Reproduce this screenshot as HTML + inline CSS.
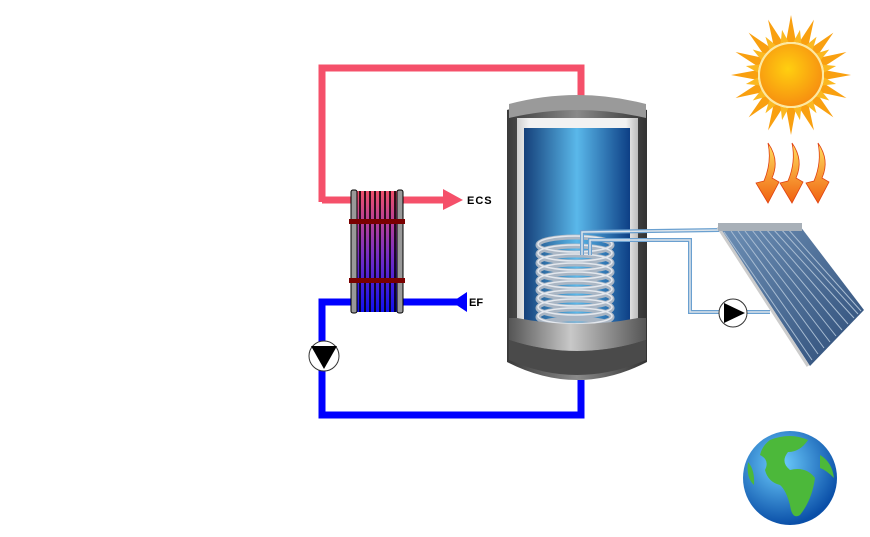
<!DOCTYPE html>
<html><head><meta charset="utf-8"><style>html,body{margin:0;padding:0;background:#fff}svg{display:block}</style></head>
<body>
<svg width="870" height="537" viewBox="0 0 870 537" xmlns="http://www.w3.org/2000/svg">
<defs>
<linearGradient id="hx" x1="0" y1="0" x2="0" y2="1"><stop offset="0" stop-color="#f0506a"/><stop offset="0.5" stop-color="#8030c0"/><stop offset="1" stop-color="#1010f0"/></linearGradient>
<linearGradient id="cyl" x1="0" y1="0" x2="1" y2="0"><stop offset="0" stop-color="#15407a"/><stop offset="0.5" stop-color="#5ab8ea"/><stop offset="1" stop-color="#0d3f85"/></linearGradient>
<linearGradient id="shell" x1="0" y1="0" x2="1" y2="0"><stop offset="0" stop-color="#cfcfcf"/><stop offset="0.1" stop-color="#f2f2f2"/><stop offset="0.9" stop-color="#f2f2f2"/><stop offset="1" stop-color="#bdbdbd"/></linearGradient>
<linearGradient id="cap" x1="0" y1="0" x2="1" y2="0"><stop offset="0" stop-color="#3a3a3a"/><stop offset="0.5" stop-color="#8a8a8a"/><stop offset="1" stop-color="#333"/></linearGradient>
<linearGradient id="base" x1="0" y1="0" x2="1" y2="0"><stop offset="0" stop-color="#555"/><stop offset="0.45" stop-color="#c8c8c8"/><stop offset="1" stop-color="#555"/></linearGradient>
<linearGradient id="pan" x1="0" y1="0" x2="1" y2="1"><stop offset="0" stop-color="#6d8fb5"/><stop offset="1" stop-color="#2e4d78"/></linearGradient>
<radialGradient id="sun" cx="0.45" cy="0.4" r="0.6"><stop offset="0" stop-color="#ffcf10"/><stop offset="1" stop-color="#f79010"/></radialGradient>
<radialGradient id="globe" cx="0.4" cy="0.35" r="0.65"><stop offset="0" stop-color="#6fd0ff"/><stop offset="1" stop-color="#0a4fa8"/></radialGradient>
<linearGradient id="heat" x1="0" y1="0" x2="0" y2="1"><stop offset="0" stop-color="#ffe060"/><stop offset="1" stop-color="#f06010"/></linearGradient>
<path id="ray" d="M-5,-33 L0,-60 L5,-33 Z" fill="#f9a010"/>
<path id="ray2" d="M-4,-33 L0,-46 L4,-33 Z" fill="#fbb820"/>
</defs>

<polyline points="322,202 322,68 581,68 581,96" fill="none" stroke="#f5506a" stroke-width="7"/>
<line x1="322" y1="200" x2="352" y2="200" stroke="#f5506a" stroke-width="7"/>
<line x1="402" y1="200" x2="446" y2="200" stroke="#f5506a" stroke-width="7"/>
<polygon points="443,189 463,200 443,210" fill="#f5506a"/>
<text x="467" y="204" font-family="Liberation Sans, sans-serif" font-weight="bold" font-size="11" letter-spacing="1">ECS</text>
<polyline points="352,302 322,302 322,415 581,415 581,380" fill="none" stroke="#0000ff" stroke-width="7"/>
<line x1="402" y1="302" x2="458" y2="302" stroke="#0000ff" stroke-width="7"/>
<polygon points="452,302 467,292 467,312" fill="#0000ff"/>
<text x="469" y="306" font-family="Liberation Sans, sans-serif" font-weight="bold" font-size="11">EF</text>
<circle cx="324" cy="356" r="15" fill="#fff" stroke="#333" stroke-width="1"/>
<polygon points="311,346 337,346 324,369" fill="#000"/>

<rect x="353" y="191" width="48" height="121" fill="url(#hx)"/>
<g stroke="#000" stroke-width="1.6">
<line x1="360" y1="191" x2="360" y2="312"/><line x1="365" y1="191" x2="365" y2="312"/><line x1="370" y1="191" x2="370" y2="312"/><line x1="375" y1="191" x2="375" y2="312"/><line x1="380" y1="191" x2="380" y2="312"/><line x1="385" y1="191" x2="385" y2="312"/><line x1="390" y1="191" x2="390" y2="312"/><line x1="395" y1="191" x2="395" y2="312"/>
</g>
<rect x="351" y="190" width="6" height="123" rx="2" fill="#999" stroke="#000"/>
<rect x="397" y="190" width="6" height="123" rx="2" fill="#999" stroke="#000"/>
<rect x="349" y="219" width="56" height="5" fill="#7a0000"/>
<rect x="349" y="278" width="56" height="5" fill="#7a0000"/>

<!-- tank -->
<path d="M507,110 Q577,88 647,110 L647,362 Q577,398 507,362 Z" fill="url(#cap)"/>
<path d="M509,104 Q577,86 646,104 L646,118 Q577,102 509,118 Z" fill="#9a9a9a"/>
<rect x="517" y="118" width="121" height="215" fill="url(#shell)"/>
<rect x="524" y="128" width="106" height="200" fill="url(#cyl)"/>
<g fill="none" stroke="#aab6c4" stroke-width="5">
<ellipse cx="575" cy="245" rx="37" ry="8"/><ellipse cx="575" cy="254" rx="37" ry="8"/><ellipse cx="575" cy="263" rx="37" ry="8"/><ellipse cx="575" cy="272" rx="37" ry="8"/><ellipse cx="575" cy="281" rx="37" ry="8"/><ellipse cx="575" cy="290" rx="37" ry="8"/><ellipse cx="575" cy="299" rx="37" ry="8"/><ellipse cx="575" cy="308" rx="37" ry="8"/><ellipse cx="575" cy="317" rx="37" ry="8"/><ellipse cx="575" cy="326" rx="37" ry="7"/>
</g>
<g fill="none" stroke="#e4e8ee" stroke-width="1.5">
<ellipse cx="575" cy="244" rx="37" ry="8"/><ellipse cx="575" cy="253" rx="37" ry="8"/><ellipse cx="575" cy="262" rx="37" ry="8"/><ellipse cx="575" cy="271" rx="37" ry="8"/><ellipse cx="575" cy="280" rx="37" ry="8"/><ellipse cx="575" cy="289" rx="37" ry="8"/><ellipse cx="575" cy="298" rx="37" ry="8"/><ellipse cx="575" cy="307" rx="37" ry="8"/><ellipse cx="575" cy="316" rx="37" ry="8"/>
</g>
<path d="M509,318 L517,318 Q577,330 638,318 L646,318 L646,340 Q577,362 509,340 Z" fill="url(#base)"/>
<path d="M509,340 Q577,362 646,340 L646,360 Q577,390 509,360 Z" fill="#4a4a4a"/>
<g fill="none" stroke="#6aa0d0" stroke-width="4">
<polyline points="582,255 582,232 720,230"/>
<polyline points="590,255 590,240 690,240 690,312 770,312"/>
</g>
<g fill="none" stroke="#dde4ea" stroke-width="1.5">
<polyline points="582,255 582,232 720,230"/>
<polyline points="590,255 590,240 690,240 690,312 770,312"/>
</g>
<circle cx="733" cy="313" r="14" fill="#fff" stroke="#333"/>
<polygon points="724,303 745,313 724,323" fill="#000"/>

<polygon points="720,228 800,226 864,310 810,366" fill="url(#pan)"/>
<g stroke="#a8bcd2" stroke-width="1">
<line x1="724" y1="232" x2="812" y2="360"/><line x1="731" y1="231" x2="818" y2="354"/><line x1="738" y1="231" x2="824" y2="348"/><line x1="745" y1="231" x2="830" y2="342"/><line x1="752" y1="230" x2="836" y2="336"/><line x1="759" y1="230" x2="842" y2="330"/><line x1="766" y1="229" x2="848" y2="324"/><line x1="773" y1="229" x2="854" y2="318"/><line x1="780" y1="228" x2="858" y2="314"/><line x1="787" y1="228" x2="861" y2="311"/>
</g>
<line x1="718" y1="227" x2="808" y2="366" stroke="#ccc" stroke-width="3"/>
<rect x="718" y="223" width="84" height="8" fill="#a8b0b8"/>

<g transform="translate(791,75)">
<use href="#ray"/><use href="#ray" transform="rotate(22.5)"/><use href="#ray" transform="rotate(45)"/><use href="#ray" transform="rotate(67.5)"/><use href="#ray" transform="rotate(90)"/><use href="#ray" transform="rotate(112.5)"/><use href="#ray" transform="rotate(135)"/><use href="#ray" transform="rotate(157.5)"/><use href="#ray" transform="rotate(180)"/><use href="#ray" transform="rotate(202.5)"/><use href="#ray" transform="rotate(225)"/><use href="#ray" transform="rotate(247.5)"/><use href="#ray" transform="rotate(270)"/><use href="#ray" transform="rotate(292.5)"/><use href="#ray" transform="rotate(315)"/><use href="#ray" transform="rotate(337.5)"/>
<use href="#ray2" transform="rotate(11.25)"/><use href="#ray2" transform="rotate(33.75)"/><use href="#ray2" transform="rotate(56.25)"/><use href="#ray2" transform="rotate(78.75)"/><use href="#ray2" transform="rotate(101.25)"/><use href="#ray2" transform="rotate(123.75)"/><use href="#ray2" transform="rotate(146.25)"/><use href="#ray2" transform="rotate(168.75)"/><use href="#ray2" transform="rotate(191.25)"/><use href="#ray2" transform="rotate(213.75)"/><use href="#ray2" transform="rotate(236.25)"/><use href="#ray2" transform="rotate(258.75)"/><use href="#ray2" transform="rotate(281.25)"/><use href="#ray2" transform="rotate(303.75)"/><use href="#ray2" transform="rotate(326.25)"/><use href="#ray2" transform="rotate(348.75)"/>
<circle r="33" fill="#fde8a0"/><circle r="31" fill="url(#sun)"/>
</g>
<g fill="url(#heat)" stroke="#e04010" stroke-width="0.8">
<path d="M768,143 Q780,160 772,178 L779,182 L768,203 L756,183 L764,181 Q772,162 768,143 Z"/>
<path d="M792,143 Q804,160 796,178 L803,182 L792,203 L780,183 L788,181 Q796,162 792,143 Z"/>
<path d="M818,143 Q830,160 822,178 L829,182 L818,203 L806,183 L814,181 Q822,162 818,143 Z"/>
</g>
<circle cx="790" cy="478" r="47" fill="url(#globe)"/>
<path d="M770,440 Q790,432 808,440 Q800,452 788,452 Q780,462 790,470 Q806,466 815,478 Q812,500 800,515 Q792,520 790,505 Q786,490 780,485 Q768,482 765,470 Q770,460 760,455 Q762,446 770,440 Z" fill="#4cb83a"/>
<path d="M820,455 Q832,462 834,478 Q826,470 820,468 Z" fill="#4cb83a"/>
<path d="M748,462 Q755,470 754,485 Q746,478 748,462 Z" fill="#4cb83a"/>
</svg>
</body></html>
